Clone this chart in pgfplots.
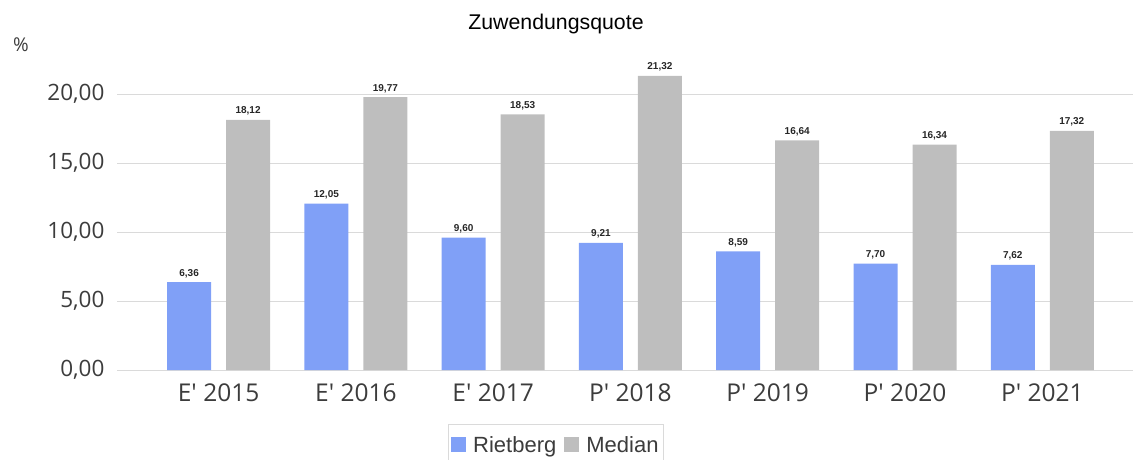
\documentclass[border=0pt]{standalone}
\usepackage{pgfplots}
\pgfplotsset{compat=1.18}
\usepackage{fontspec}
\setmainfont{Liberation Sans}
\newfontfamily\tickfont{Open Sans}
\definecolor{rblue}{RGB}{128,160,247}
\definecolor{mgray}{RGB}{190,190,190}
\definecolor{gridc}{RGB}{218,218,218}
\definecolor{txt}{RGB}{60,60,60}
\begin{document}
\begin{tikzpicture}[x=1pt,y=1pt]
\useasboundingbox (0,0) rectangle (1136,459);
\begin{axis}[
  at={(117pt,89pt)}, anchor=south west,
  scale only axis, width=1016pt, height=276pt,
  ymin=0, ymax=20, xmin=-0.74, xmax=6.66,
  clip=false,
  ybar=15pt, bar width=44pt,
  axis line style={draw=none},
  major tick length=0pt,
  ymajorgrids, grid style={draw=gridc, line width=0.8pt},
  ytick={0,5,10,15,20},
  yticklabel style={/pgf/number format/fixed, /pgf/number format/fixed zerofill, /pgf/number format/precision=2, /pgf/number format/use comma, /pgf/number format/assume math mode=true,
    font=\tickfont\fontsize{22.5}{24}\selectfont, text=txt, xshift=-9pt},
  xtick={0,...,6},
  xticklabels={E\textquotesingle\ 2015,E\textquotesingle\ 2016,E\textquotesingle\ 2017,P\textquotesingle\ 2018,P\textquotesingle\ 2019,P\textquotesingle\ 2020,P\textquotesingle\ 2021},
  xticklabel style={font=\tickfont\fontsize{24.5}{26}\selectfont, text=txt, yshift=-10pt},
  nodes near coords={\pgfmathprintnumber[fixed,fixed zerofill,precision=2,use comma,assume math mode=true]{\pgfplotspointmeta}},
  nodes near coords style={font=\bfseries\fontsize{10}{12}\selectfont, text=black!85, yshift=1pt},
  legend columns=2,
  legend style={at={(0.432,-0.196)}, anchor=north, draw=gridc, font=\fontsize{22}{24}\selectfont, text=txt,
    /tikz/every even column/.append style={column sep=6pt}, inner xsep=3pt, inner ysep=10pt},
  legend image code/.code={\fill[#1] (0pt,-7pt) rectangle (15pt,8pt);},
  legend cell align=left,
]
\addplot[fill=rblue, draw=none] coordinates {(0,6.36) (1,12.05) (2,9.60) (3,9.21) (4,8.59) (5,7.70) (6,7.62)};
\addplot[fill=mgray, draw=none] coordinates {(0,18.12) (1,19.77) (2,18.53) (3,21.32) (4,16.64) (5,16.34) (6,17.32)};
\legend{\hspace{5pt}Rietberg,\hspace{5pt}Median}
\end{axis}
\node[font=\fontsize{21.3}{24}\selectfont, text=black] at (556,435) {Zuwendungsquote};
\node[font=\tickfont\fontsize{19}{22}\selectfont, text=txt] at (21,414) {\%};
\end{tikzpicture}
\end{document}
